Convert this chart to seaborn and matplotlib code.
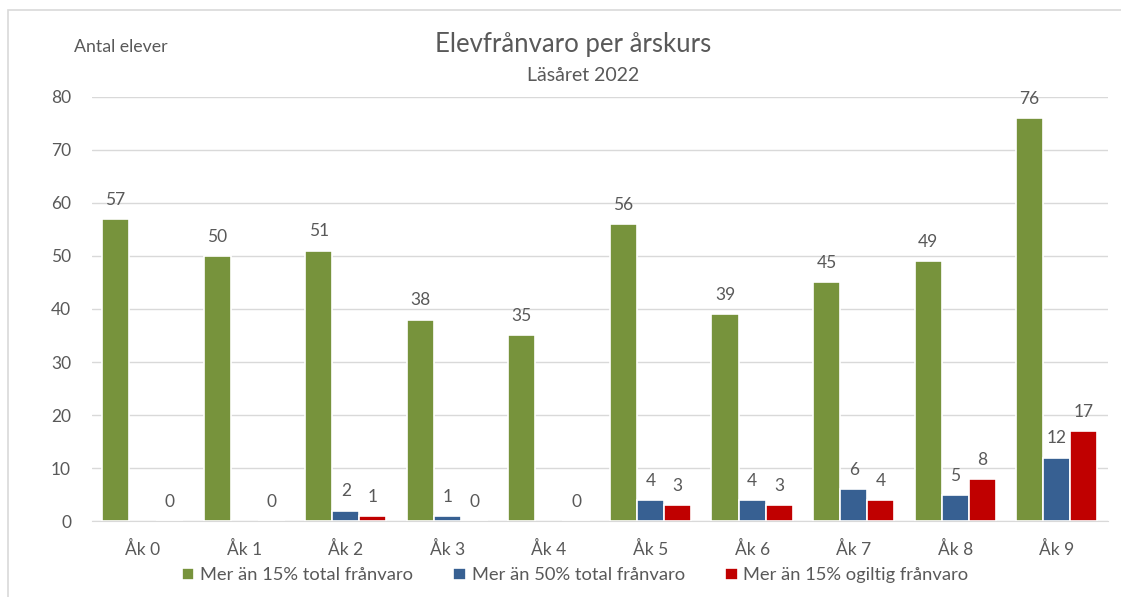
import seaborn as sns
import pandas as pd
import numpy as np
import matplotlib.pyplot as plt
from matplotlib.patches import Rectangle

grades = ["Åk 0", "Åk 1", "Åk 2", "Åk 3", "Åk 4", "Åk 5", "Åk 6", "Åk 7", "Åk 8", "Åk 9"]
total_15 = [57, 50, 51, 38, 35, 56, 39, 45, 49, 76]
total_50 = [np.nan, np.nan, 2, 1, np.nan, 4, 4, 6, 5, 12]
ogiltig_15 = [0, 0, 1, 0, 0, 3, 3, 4, 8, 17]
series = ["Mer än 15% total frånvaro", "Mer än 50% total frånvaro", "Mer än 15% ogiltig frånvaro"]
colors = ["#77933C", "#376092", "#C00000"]


def main():
    data = pd.DataFrame({"grade": grades, series[0]: total_15,
                         series[1]: total_50, series[2]: ogiltig_15})
    long = pd.melt(data, id_vars=["grade"], var_name="serie", value_name="antal")
    long = long.dropna()

    sns.set_style("white")
    plt.rcParams["font.family"] = ["Lato", "DejaVu Sans"]
    txt = "#595959"

    fig = plt.figure(figsize=(11.21, 5.97), dpi=100)
    ax = fig.add_axes([0.082, 0.127, 0.906, 0.711])
    sns.barplot(data=long, x="grade", y="antal", hue="serie", order=grades,
                hue_order=series, palette=colors, width=0.8, saturation=1,
                edgecolor="white", linewidth=1.2, ax=ax)

    for cont in ax.containers:
        ax.bar_label(cont, fmt="%g", padding=8, fontsize=12.5, color=txt)

    ax.set_ylim(0, 80)
    ax.set_yticks(range(0, 81, 10))
    ax.yaxis.grid(True, color="#D9D9D9", linewidth=1)
    ax.set_axisbelow(True)
    for s in ["top", "right", "left"]:
        ax.spines[s].set_visible(False)
    ax.spines["bottom"].set_color("#D9D9D9")
    ax.tick_params(axis="both", length=0, labelsize=12.5, labelcolor=txt)
    ax.tick_params(axis="x", pad=14)
    ax.tick_params(axis="y", pad=15)
    ax.set_xlabel("")
    ax.set_ylabel("")

    handles, labels = ax.get_legend_handles_labels()
    ax.legend(handles, labels, loc="lower center", bbox_to_anchor=(0.513, -0.005),
              bbox_transform=fig.transFigure, ncol=3, frameon=False,
              fontsize=13.2, handlelength=0.7, handleheight=0.7,
              handletextpad=0.3, columnspacing=2.2, labelcolor=txt)

    fig.text(0.5115, 0.925, "Elevfrånvaro per årskurs", ha="center", va="center",
             fontsize=18.5, color=txt)
    fig.text(0.5205, 0.874, "Läsåret 2022", ha="center", va="center",
             fontsize=14, color=txt)
    fig.text(0.066, 0.921, "Antal elever", ha="left", va="center",
             fontsize=12.8, color=txt)

    fig.patches.append(Rectangle((0.007, -0.01), 1.0, 0.993, transform=fig.transFigure,
                                 fill=False, edgecolor="#D9D9D9", linewidth=1.2))

    fig.savefig("out.png", dpi=100)


if __name__ == "__main__":
    main()
